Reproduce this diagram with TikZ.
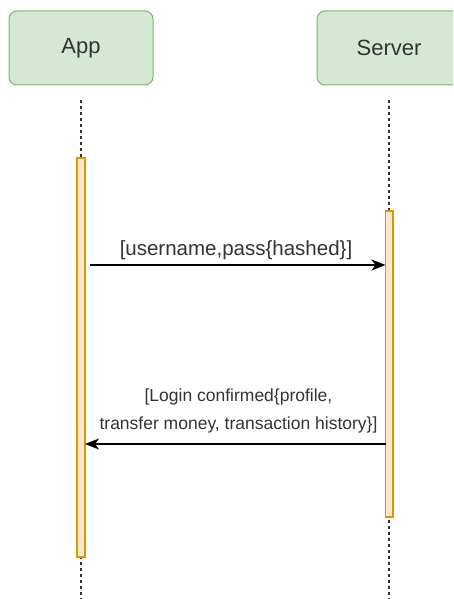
\documentclass[tikz,border=0pt]{standalone}
\usepackage{fontspec}
\setmainfont{Liberation Sans}
\usetikzlibrary{arrows.meta}
\definecolor{actfill}{HTML}{D5E8D4}
\definecolor{actline}{HTML}{82B366}
\definecolor{barfill}{HTML}{FFE6CC}
\definecolor{barline}{HTML}{D79B00}
\definecolor{txt}{HTML}{333333}
\tikzset{
  actor/.style={draw=actline, fill=actfill, line width=1pt, rounded corners=8pt,
    minimum width=144pt, minimum height=74pt, inner sep=0pt, font=\fontsize{22}{26}\selectfont, text=txt},
  lifeline/.style={draw=black!80, line width=1.2pt, dash pattern=on 3pt off 3pt},
  activation/.style={draw=barline, fill=barfill, line width=1.4pt},
  message/.style={draw=black, line width=1.2pt, -{Stealth[length=14pt, width=11pt, inset=4pt]}},
  msglabel/.style={text=txt, inner sep=0pt, align=center}
}
\begin{document}
\begin{tikzpicture}[x=1pt, y=-1pt]
  \useasboundingbox (0,0) rectangle (453,599);
  \begin{scope}
    \clip (0,0) rectangle (453,599);
    % participants
    \node[actor] (app) at (81,48) {App};
    \node[actor] (server) at (389,48) {Server};
    % lifelines
    \coordinate (appTop) at (81,100);
    \coordinate (appBot) at (81,599);
    \coordinate (srvTop) at (389,100);
    \coordinate (srvBot) at (389,599);
    \draw[lifeline] (appTop) -- (appBot);
    \draw[lifeline] (srvTop) -- (srvBot);
    % activation bars
    \path[activation] (77,158) rectangle (85,557);
    \path[activation] (385.5,211) rectangle (393,517);
    % messages
    \coordinate (m1s) at (90,265);
    \coordinate (m1e) at (385.5,265);
    \draw[message] (m1s) -- (m1e);
    \node[msglabel, font=\fontsize{20.5}{24}\selectfont] (l1) at (236,250) {[username,pass\{hashed\}]};
    \coordinate (m2s) at (385.5,444);
    \coordinate (m2e) at (85,444);
    \draw[message] (m2s) -- (m2e);
    \node[msglabel, font=\fontsize{17.5}{28}\selectfont] (l2) at (238.5,411) {[Login confirmed\{profile,\\ transfer money, transaction history\}]};
  \end{scope}
\end{tikzpicture}
\end{document}
